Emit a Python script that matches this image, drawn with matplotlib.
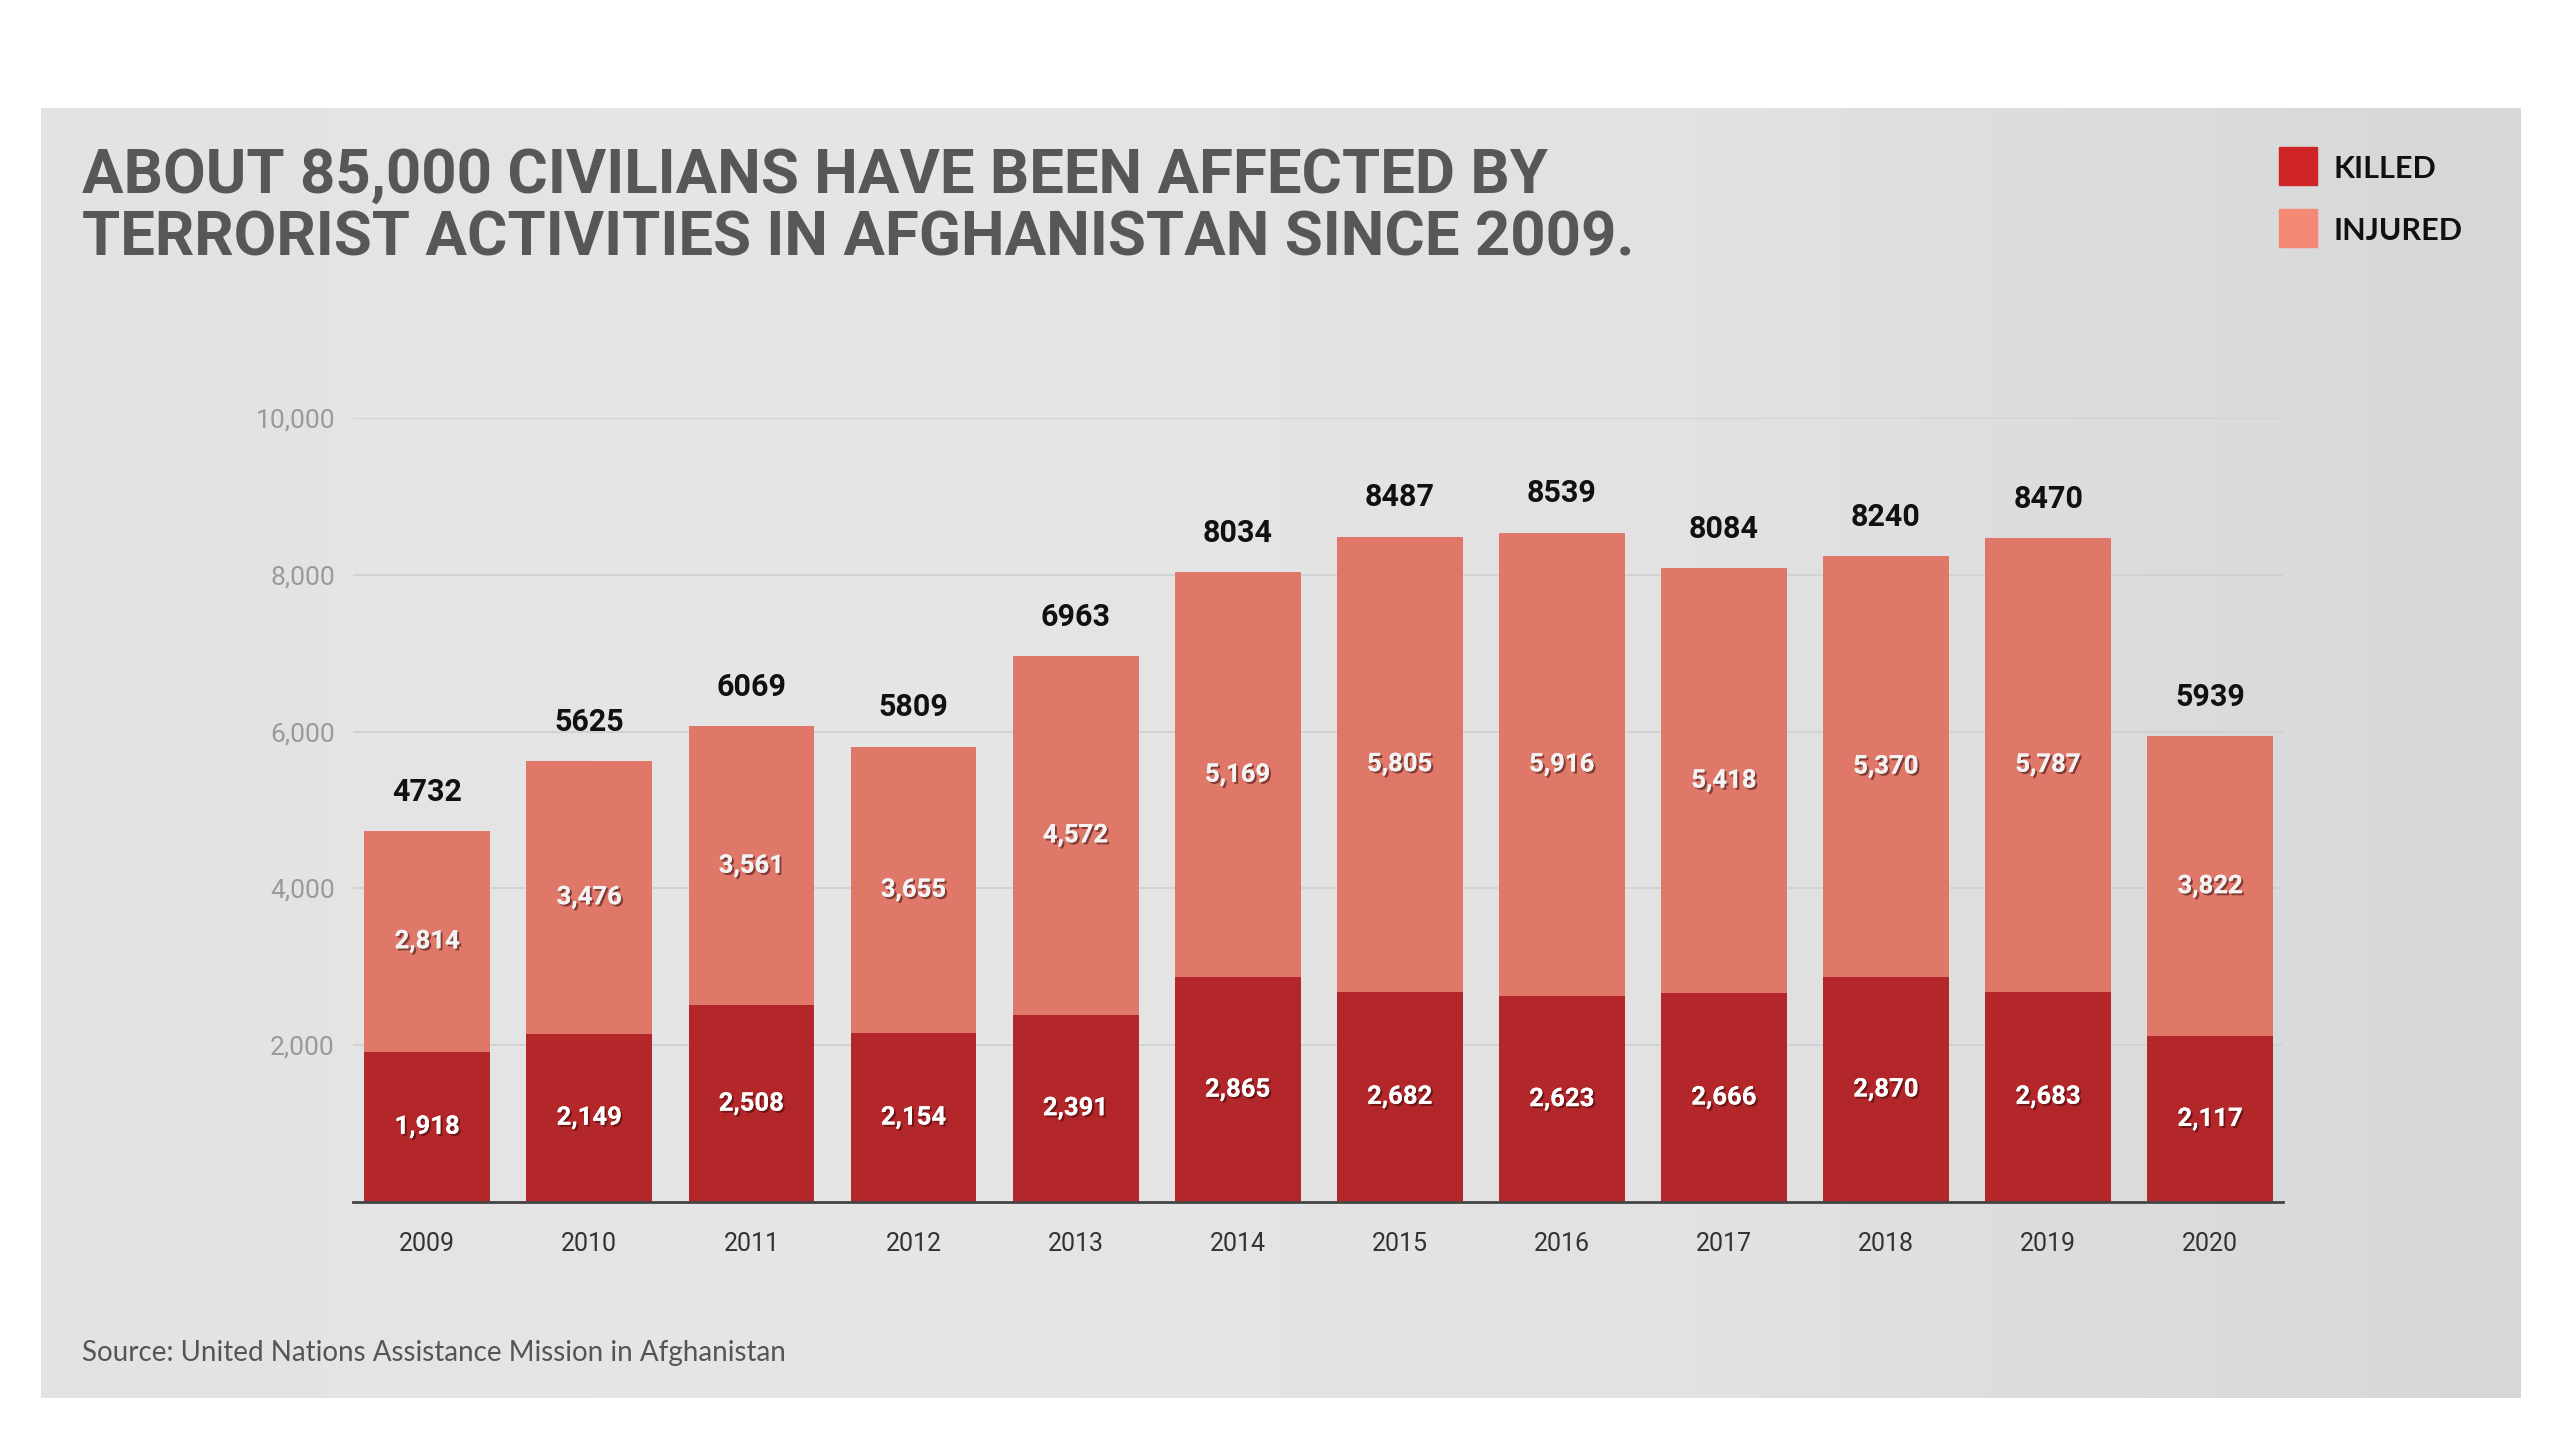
import numpy as np
import matplotlib
matplotlib.use('Agg')
import matplotlib.pyplot as plt
import matplotlib.patches as mpatches
import matplotlib.patheffects as pe
from matplotlib.ticker import FuncFormatter

# data
years = ['2009', '2010', '2011', '2012', '2013', '2014', '2015', '2016', '2017', '2018', '2019', '2020']
killed = [1918, 2149, 2508, 2154, 2391, 2865, 2682, 2623, 2666, 2870, 2683, 2117]
injured = [2814, 3476, 3561, 3655, 4572, 5169, 5805, 5916, 5418, 5370, 5787, 3822]
totals = [4732, 5625, 6069, 5809, 6963, 8034, 8487, 8539, 8084, 8240, 8470, 5939]
yticks = [2000, 4000, 6000, 8000, 10000]

c_killed = '#b3262a'
c_injured = '#df7868'
rob = ['Roboto', 'DejaVu Sans']

fig = plt.figure(figsize=(25.6, 14.4), dpi=100)
fig.patch.set_facecolor('white')

# grey panel behind everything (soft gradient instead of the paper texture)
bg = fig.add_axes([0.016, 0.0292, 0.9684, 0.8958])
grad = np.linspace(0, 1, 256)
grad = np.vstack([grad, grad])
bg.imshow(grad, aspect='auto', cmap=matplotlib.colors.LinearSegmentedColormap.from_list(
    'g', ['#e3e3e3', '#e6e6e6', '#e2e2e3', '#d6d7d8']), extent=[0, 1, 0, 1])
bg.axis('off')
bg.set_zorder(-1)

ax = fig.add_axes([0.1379, 0.1653, 0.7539, 0.5444])
ax.set_facecolor('none')
x = np.arange(len(years))
w = 0.776
ax.bar(x, killed, width=w, color=c_killed, zorder=3)
ax.bar(x, injured, width=w, bottom=killed, color=c_injured, zorder=3)

ax.set_xlim(-0.458, 11.449)
ax.set_ylim(0, 10000)
ax.set_yticks(yticks)
ax.yaxis.set_major_formatter(FuncFormatter(lambda v, p: f'{int(v):,}'))
ax.grid(axis='y', color='#cfd1d3', lw=1.3, zorder=0)
for s in ['top', 'right', 'left']:
    ax.spines[s].set_visible(False)
ax.spines['bottom'].set_color('#444444')
ax.spines['bottom'].set_linewidth(2)
ax.spines['bottom'].set_zorder(4)
ax.tick_params(axis='y', length=0, pad=13, labelsize=19, labelcolor='#9a9a9a')
for lab in ax.get_yticklabels():
    lab.set_family(rob)
ax.set_xticks(x)
ax.set_xticklabels([])
ax.tick_params(axis='x', length=0)

shadow = [pe.withSimplePatchShadow(offset=(1.5, -1.5), shadow_rgbFace='#3a0a0a', alpha=0.55), pe.Normal()]
for i in range(len(years)):
    ax.text(x[i], -540, years[i], ha='center', va='center', fontsize=18,
            color='#333333', family=rob)
    ax.text(x[i], killed[i] / 2, f'{killed[i]:,}', ha='center', va='center',
            fontsize=18.5, color='white', fontweight='bold', family=rob,
            path_effects=shadow, zorder=5)
    ax.text(x[i], killed[i] + injured[i] / 2, f'{injured[i]:,}', ha='center', va='center',
            fontsize=18.5, color='#f3f3f3', fontweight='bold', family=rob,
            path_effects=shadow, zorder=5)
    ax.text(x[i], totals[i] + 500, str(totals[i]), ha='center', va='center',
            fontsize=22, color='#111111', fontweight='semibold', family=rob)

# title
fig.text(0.032, 0.866, 'ABOUT 85,000 CIVILIANS HAVE BEEN AFFECTED BY', fontsize=44.5,
         fontweight='bold', color='#575757', family=rob, va='baseline')
fig.text(0.032, 0.8229, 'TERRORIST ACTIVITIES IN AFGHANISTAN SINCE 2009.', fontsize=44.5,
         fontweight='bold', color='#575757', family=rob, va='baseline')

# legend
for lab, col, yc in [('KILLED', '#cf2527', 0.8847), ('INJURED', '#f48a76', 0.8417)]:
    fig.patches.append(mpatches.Rectangle((2279 / 2560, yc - 19 / 1440), 38 / 2560, 38 / 1440,
                                          transform=fig.transFigure, color=col))
    fig.text(2333 / 2560, yc - 3 / 1440, lab, fontsize=22, fontweight='bold', color='#111111',
             family=['Lato', 'DejaVu Sans'], va='center')

fig.text(0.032, 1 - 1353 / 1440, 'Source: United Nations Assistance Mission in Afghanistan',
         fontsize=20, color='#555555', family=['Lato', 'DejaVu Sans'], va='center')

fig.savefig('out.png', dpi=100)
